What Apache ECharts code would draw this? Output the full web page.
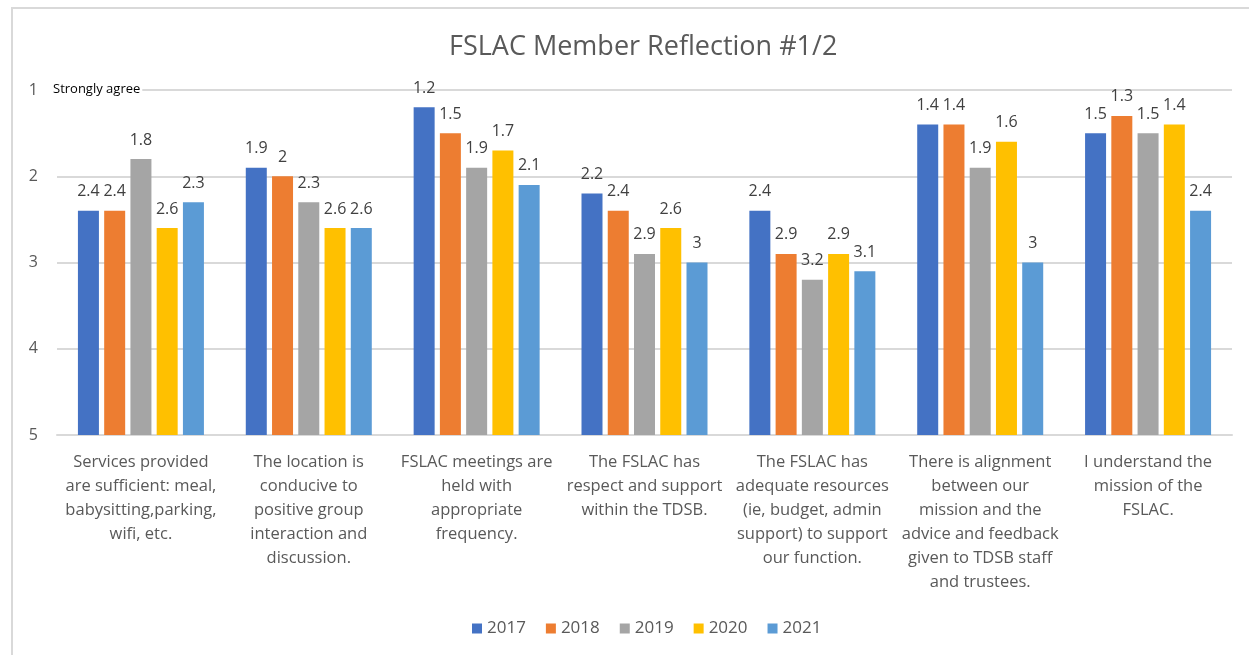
<!DOCTYPE html>
<html>
<head>
<meta charset="utf-8">
<script src="https://cdn.jsdelivr.net/npm/echarts@6/dist/echarts.min.js"></script>
<style>
html,body{margin:0;padding:0;background:#fff;}
#chart{width:1249px;height:655px;}
</style>
</head>
<body>
<div id="chart"></div>
<script>
const categories = [
  "Services provided\nare sufficient: meal,\nbabysitting,parking,\nwifi, etc.",
  "The location is\nconducive to\npositive group\ninteraction and\ndiscussion.",
  "FSLAC meetings are\nheld with\nappropriate\nfrequency.",
  "The FSLAC has\nrespect and support\nwithin the TDSB.",
  "The FSLAC has\nadequate resources\n(ie, budget, admin\nsupport) to support\nour function.",
  "There is alignment\nbetween our\nmission and the\nadvice and feedback\ngiven to TDSB staff\nand trustees.",
  "I understand the\nmission of the\nFSLAC."
];
const years = ["2017", "2018", "2019", "2020", "2021"];
const v2017 = [2.4, 1.9, 1.2, 2.2, 2.4, 1.4, 1.5];
const v2018 = [2.4, 2, 1.5, 2.4, 2.9, 1.4, 1.3];
const v2019 = [1.8, 2.3, 1.9, 2.9, 3.2, 1.9, 1.5];
const v2020 = [2.6, 2.6, 1.7, 2.6, 2.9, 1.6, 1.4];
const v2021 = [2.3, 2.6, 2.1, 3, 3.1, 3, 2.4];
const yTicks = [1, 2, 3, 4, 5];
const colors = ["#4472C4", "#ED7D31", "#A5A5A5", "#FFC000", "#5B9BD5"];

const scaleBottom = 5; // axis reversed: 1 at top, 5 at bottom; bars rise from 5
const seriesValues = [v2017, v2018, v2019, v2020, v2021];
const FONT = "Open Sans";

const chart = echarts.init(document.getElementById('chart'), null, {renderer: 'canvas'});
chart.setOption({
  animation: false,
  color: colors,
  textStyle: {fontFamily: FONT},
  title: {
    text: "FSLAC Member Reflection #1/2",
    left: 444, top: 29,
    textStyle: {fontFamily: FONT, fontSize: 27, fontWeight: 'normal', color: '#595959'}
  },
  legend: {
    data: years,
    bottom: 13, left: 467,
    itemWidth: 10, itemHeight: 10, itemGap: 20,
    icon: 'rect',
    textStyle: {fontFamily: FONT, fontSize: 17, color: '#595959'}
  },
  grid: {left: 57, right: 17, top: 90, bottom: 220, containLabel: false},
  xAxis: {
    type: 'category',
    data: categories,
    axisTick: {show: false},
    axisLine: {lineStyle: {color: '#d9d9d9', width: 2}},
    axisLabel: {
      interval: 0, margin: 15, color: '#595959',
      fontFamily: FONT, fontSize: 16.5, lineHeight: 24
    }
  },
  yAxis: {
    type: 'value',
    min: 0, max: 4, interval: 1,
    axisLine: {show: false},
    axisTick: {show: false},
    splitLine: {lineStyle: {color: '#d9d9d9', width: 2}},
    axisLabel: {
      margin: 19, color: '#595959', fontFamily: FONT, fontSize: 16,
      formatter: v => String(scaleBottom - v)
    }
  },
  graphic: [
    {type: 'text', left: 52, top: 82, z: 100,
     style: {text: 'Strongly agree', fontFamily: FONT, fontSize: 13, fill: '#000',
             backgroundColor: '#fff', padding: [1, 2, 1, 1]}},
    {type: 'line', shape: {x1: 12, y1: 8, x2: 1249, y2: 8},
     style: {stroke: '#d9d9d9', lineWidth: 2}, silent: true},
    {type: 'line', shape: {x1: 12, y1: 7, x2: 12, y2: 655},
     style: {stroke: '#d9d9d9', lineWidth: 2}, silent: true}
  ],
  series: years.map((y, i) => ({
    name: y,
    type: 'bar',
    barWidth: 21,
    barGap: '25%',
    data: seriesValues[i].map(v => scaleBottom - v),
    label: {
      show: true, position: 'top', distance: 11,
      color: '#404040', fontFamily: FONT, fontSize: 16,
      formatter: p => String(seriesValues[i][p.dataIndex])
    }
  }))
});
</script>
</body>
</html>
